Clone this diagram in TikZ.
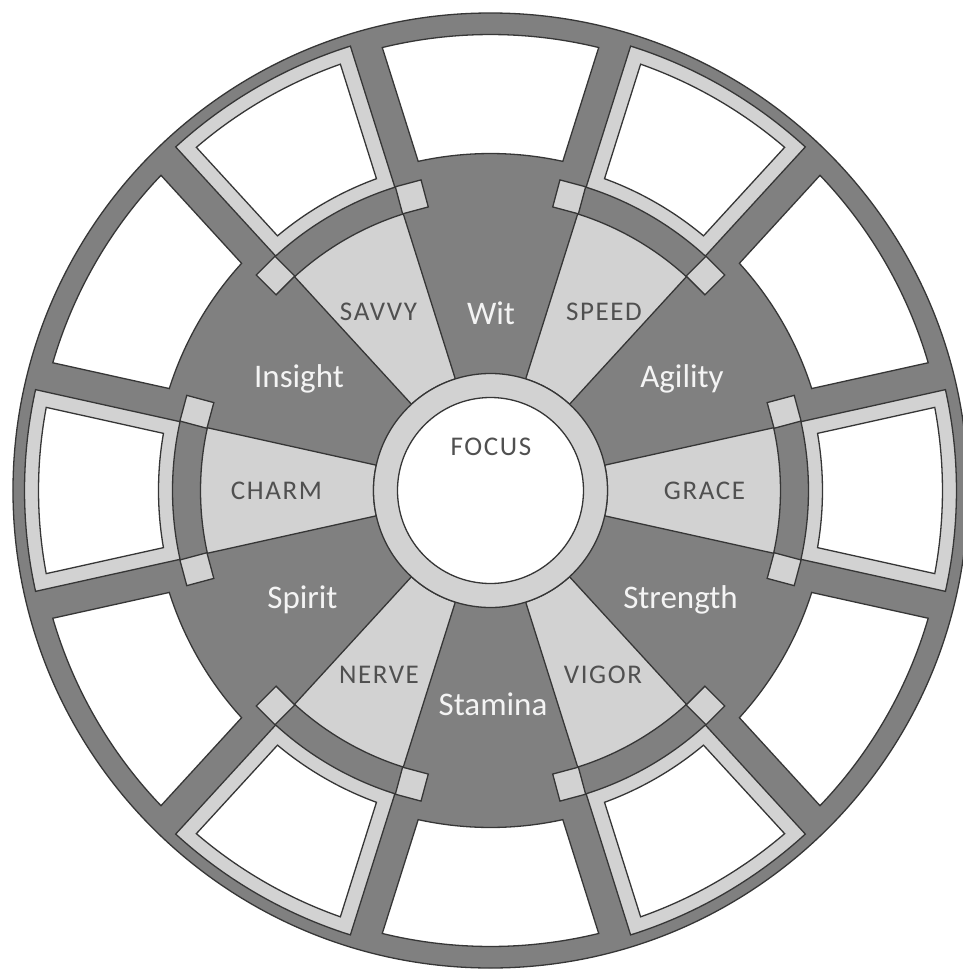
\documentclass[tikz,border=0pt]{standalone}
\usepackage{fontspec}
\setmainfont{Carlito}
\newfontfamily\capfont[LetterSpace=6]{Carlito}
\definecolor{dk}{HTML}{808080}
\definecolor{lt}{HTML}{D2D2D2}
\definecolor{ln}{HTML}{363636}
\definecolor{captxt}{HTML}{505050}
\definecolor{bigtxt}{HTML}{F4F4F4}
\begin{document}
\begin{tikzpicture}[x=0.5pt,y=0.5pt,line join=miter,
  outl/.style={draw=ln,line width=0.65pt},
  biglab/.style={text=bigtxt,font=\fontsize{16.5}{18}\selectfont,anchor=base,inner sep=0pt},
  caplab/.style={text=captxt,font=\capfont\fontsize{13.5}{15}\selectfont,anchor=base,inner sep=0pt}]
\useasboundingbox (-490.5,-480.5) rectangle (472.5,490.5);
\fill[white] (-490.5,-480.5) rectangle (472.5,490.5);
% outer disk
\path[outl,fill=dk] (0,0) circle[radius=477.5];
% light outer cells and light wedges
\foreach \c in {0,60,120,180,240,300}{
  \path[outl,fill=lt] ({\c-12.5}:318) arc[start angle={\c-12.5},end angle={\c+12.5},radius=318]
     -- ({\c+12.5}:466) arc[start angle={\c+12.5},end angle={\c-12.5},radius=466] -- cycle;
  \path[outl,fill=white] ({\c-9.91}:332) arc[start angle={\c-9.91},end angle={\c+9.91},radius=332]
     -- ({\c+10.6}:452) arc[start angle={\c+10.6},end angle={\c-10.6},radius=452] -- cycle;
  \path[outl,fill=lt] ({\c-12.5}:117) arc[start angle={\c-12.5},end angle={\c+12.5},radius=117]
     -- ({\c+12.5}:290) arc[start angle={\c+12.5},end angle={\c-12.5},radius=290] -- cycle;
}
% dark cell white interiors
\foreach \c in {30,90,150,210,270,330}{
  \path[outl,fill=white] ({\c-12.39}:337) arc[start angle={\c-12.39},end angle={\c+12.39},radius=337]
     -- ({\c+13.73}:456) arc[start angle={\c+13.73},end angle={\c-13.73},radius=456] -- cycle;
}
% small squares on the band
\foreach \a in {15,45,...,345}{
  \begin{scope}[rotate=\a]
    \path[outl,fill=lt] (290,-13.3) rectangle (318,13.3);
  \end{scope}
}
% focus
\path[outl,fill=lt] (0,0) circle[radius=117];
\path[outl,fill=white] (0,0) circle[radius=93];
% labels
\node[caplab] (focus) at (0.5,35.5) {FOCUS};
\node[biglab] (wit) at (0.5,166) {Wit};
\node[biglab] (insight) at (-191.5,103.5) {Insight};
\node[biglab] (agility) at (191.5,103.5) {Agility};
\node[biglab] (spirit) at (-188,-118) {Spirit};
\node[biglab] (strength) at (190,-118) {Strength};
\node[biglab] (stamina) at (2.5,-224.5) {Stamina};
\node[caplab] (savvy) at (-112,170.5) {SAVVY};
\node[caplab] (speed) at (113.5,170.5) {SPEED};
\node[caplab] (charm) at (-214,-9) {CHARM};
\node[caplab] (grace) at (214,-9) {GRACE};
\node[caplab] (nerve) at (-111.5,-192.5) {NERVE};
\node[caplab] (vigor) at (112.5,-192.5) {VIGOR};
\end{tikzpicture}
\end{document}
